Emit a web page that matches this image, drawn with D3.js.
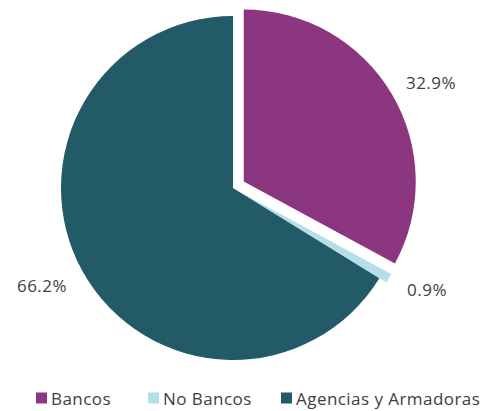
<!DOCTYPE html>
<html>
<head>
<meta charset="utf-8">
<script src="https://cdn.jsdelivr.net/npm/d3@7"></script>
<style>
  body { margin: 0; background: #fff; }
  text { font-family: "Open Sans", sans-serif; fill: #404040; }
</style>
</head>
<body>
<div id="chart"></div>
<script>
// data
var categories = ["Bancos", "No Bancos", "Agencias y Armadoras"];
var values = [32.9, 0.9, 66.2];
var colors = ["#8b367f", "#b5dfe8", "#235a68"];
var explode = [12.5, 8, 0];

var width = 487, height = 411;
var cx = 233, cy = 188, radius = 172;

var svg = d3.select("#chart").append("svg")
  .attr("width", width)
  .attr("height", height);

var pie = d3.pie().sort(null).value(function(d) { return d; });
var arcs = pie(values);
var arc = d3.arc().innerRadius(0).outerRadius(radius);

var g = svg.append("g").attr("transform", "translate(" + cx + "," + cy + ")");

// slices, pulled out along their mid angle
g.selectAll("path")
  .data(arcs)
  .enter()
  .append("path")
    .attr("d", arc)
    .attr("fill", function(d, i) { return colors[i]; })
    .attr("transform", function(d, i) {
      var a = (d.startAngle + d.endAngle) / 2;
      return "translate(" + (Math.sin(a) * explode[i]) + "," + (-Math.cos(a) * explode[i]) + ")";
    });

// percentage labels, placed outside the pie
var labelPos = [[431, 82], [427, 289], [42, 285]];
g.selectAll("text.lbl")
  .data(arcs)
  .enter()
  .append("text")
    .attr("class", "lbl")
    .attr("x", function(d, i) { return labelPos[i][0] - cx; })
    .attr("y", function(d, i) { return labelPos[i][1] - cy; })
    .attr("text-anchor", "middle")
    .attr("dominant-baseline", "central")
    .style("font-size", "17px")
    .style("letter-spacing", "0.5px")
    .text(function(d, i) { return values[i].toFixed(1) + "%"; });

// legend
var legendX = [36, 148, 281];
var legend = svg.append("g").attr("transform", "translate(0,398)");
var item = legend.selectAll("g")
  .data(categories)
  .enter()
  .append("g")
    .attr("transform", function(d, i) { return "translate(" + legendX[i] + ",0)"; });
item.append("rect")
  .attr("x", 0).attr("y", -5.5)
  .attr("width", 11).attr("height", 11)
  .attr("fill", function(d, i) { return colors[i]; });
item.append("text")
  .attr("x", 15)
  .attr("y", 0)
  .attr("dominant-baseline", "central")
  .style("font-size", "17px")
  .style("letter-spacing", "0.45px")
  .text(function(d) { return d; });
</script>
</body>
</html>
